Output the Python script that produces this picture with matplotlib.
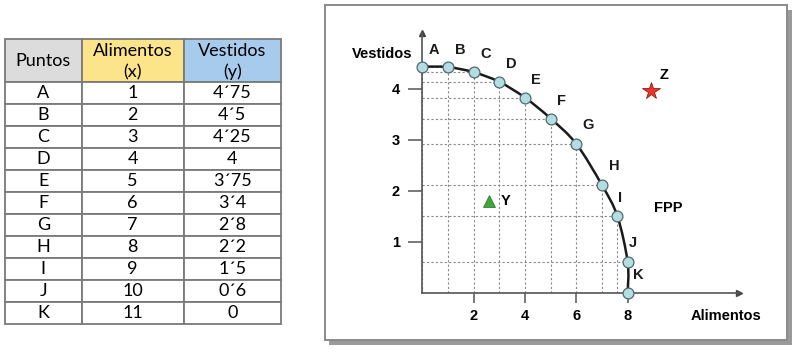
import matplotlib
matplotlib.use("Agg")
import matplotlib.pyplot as plt
from matplotlib.patches import Rectangle, PathPatch
from matplotlib.path import Path

# ---- table data ----
puntos = ["A", "B", "C", "D", "E", "F", "G", "H", "I", "J", "K"]
alimentos_tab = ["1", "2", "3", "4", "5", "6", "7", "8", "9", "10", "11"]
vestidos_tab = ["4´75", "4´5", "4´25", "4", "3´75", "3´4", "2´8", "2´2", "1´5", "0´6", "0"]

# ---- chart data (as drawn on the curve) ----
fpp_x = [0, 1, 2, 3, 4, 5, 6, 7, 7.6, 8.0, 8.0]
fpp_y = [4.44, 4.43, 4.33, 4.14, 3.83, 3.42, 2.92, 2.11, 1.5, 0.6, 0.0]
y_point = (2.61, 1.80)
z_point = (8.9, 3.97)

# label offsets in pixels (layout only)
lab_off = [(12, 17), (12, 17), (12, 18), (12, 18), (11, 18), (11, 18),
           (12, 19), (12, 19), (3, 18), (5, 19), (11, 18)]

W, H = 796, 353
fig = plt.figure(figsize=(W / 100, H / 100), dpi=100)
fig.patch.set_facecolor("white")

bg = fig.add_axes([0, 0, 1, 1])
bg.set_xlim(0, W)
bg.set_ylim(H, 0)
bg.axis("off")

# ---- table ----
tfont = ["Lato", "DejaVu Sans"]
tsize = 13
cols = [4.7, 81.7, 183.7, 281.0]
top, head_bot, row_h = 39.3, 81.7, 22.0
head_colors = ["#dcdcdc", "#fce48a", "#a6cbec"]
border = "#7a7a7a"
for i in range(3):
    bg.add_patch(Rectangle((cols[i], top), cols[i + 1] - cols[i], head_bot - top,
                           facecolor=head_colors[i], edgecolor=border, lw=1.3))
for r in range(len(puntos)):
    y0 = head_bot + r * row_h
    for i in range(3):
        bg.add_patch(Rectangle((cols[i], y0), cols[i + 1] - cols[i], row_h,
                               facecolor="white", edgecolor=border, lw=1.3))
centers = [(cols[i] + cols[i + 1]) / 2 for i in range(3)]
bg.text(centers[0], 61.5, "Puntos", ha="center", va="center", fontsize=tsize, family=tfont)
bg.text(centers[1], 50.5, "Alimentos", ha="center", va="center", fontsize=tsize, family=tfont)
bg.text(centers[1], 72.0, "(x)", ha="center", va="center", fontsize=tsize, family=tfont)
bg.text(centers[2], 50.5, "Vestidos", ha="center", va="center", fontsize=tsize, family=tfont)
bg.text(centers[2], 72.0, "(y)", ha="center", va="center", fontsize=tsize, family=tfont)
for r in range(len(puntos)):
    yc = head_bot + (r + 0.5) * row_h
    bg.text(centers[0], yc, puntos[r], ha="center", va="center", fontsize=tsize, family=tfont)
    bg.text(centers[1], yc, alimentos_tab[r], ha="center", va="center", fontsize=tsize, family=tfont)
    bg.text(centers[2], yc, vestidos_tab[r], ha="center", va="center", fontsize=tsize, family=tfont)

# ---- chart frame with shadow ----
bx0, by0, bx1, by1 = 324.7, 5.3, 787.3, 340.0
bg.add_patch(Rectangle((bx0 + 4.5, by0 + 4.5), bx1 - bx0, by1 - by0,
                       facecolor="#9a9a9a", edgecolor="none"))
bg.add_patch(Rectangle((bx0, by0), bx1 - bx0, by1 - by0,
                       facecolor="white", edgecolor="#8a8a8a", lw=1.4))

# ---- chart axes ----
ox, oy = 422.3, H - 292.6
ux, uy = 25.67, 50.9
xmax, ymax = 12.35, 5.11
ax = fig.add_axes([ox / W, oy / H, xmax * ux / W, ymax * uy / H])
ax.set_xlim(0, xmax)
ax.set_ylim(0, ymax)
ax.patch.set_alpha(0)
for s in ["top", "right"]:
    ax.spines[s].set_visible(False)
for s in ["left", "bottom"]:
    ax.spines[s].set_color("#555555")
    ax.spines[s].set_linewidth(1.2)
ax.plot([xmax], [0], marker=">", color="#444444", markersize=4, clip_on=False)
ax.plot([0], [ymax], marker="^", color="#444444", markersize=4, clip_on=False)

bold = dict(family=["Liberation Sans", "DejaVu Sans"], fontweight="bold")
ax.set_xticks([2, 4, 6, 8])
ax.set_yticks([1, 2, 3, 4])
ax.tick_params(axis="both", direction="out", length=7, width=1.1, color="#555555",
               labelsize=10.5, pad=5)
for lab in ax.get_xticklabels() + ax.get_yticklabels():
    lab.set_fontweight("bold")
    lab.set_family(["Liberation Sans", "DejaVu Sans"])
ax.tick_params(axis="y", length=10, pad=6)

# dotted guide lines
for x, y in zip(fpp_x, fpp_y):
    ax.plot([0, x], [y, y], ls=(0, (2, 2)), color="#888888", lw=0.8, zorder=1)
    ax.plot([x, x], [0, y], ls=(0, (2, 2)), color="#888888", lw=0.8, zorder=1)

# smooth frontier through the points (Bezier segments drawn by matplotlib)
pts = list(zip(fpp_x, fpp_y))
verts = [pts[0]]
codes = [Path.MOVETO]
n = len(pts)
for i in range(n - 1):
    p0 = pts[i - 1] if i > 0 else pts[i]
    p1, p2 = pts[i], pts[i + 1]
    p3 = pts[i + 2] if i + 2 < n else pts[i + 1]
    c1 = (p1[0] + (p2[0] - p0[0]) / 6, p1[1] + (p2[1] - p0[1]) / 6)
    c2 = (p2[0] - (p3[0] - p1[0]) / 6, p2[1] - (p3[1] - p1[1]) / 6)
    verts += [c1, c2, p2]
    codes += [Path.CURVE4] * 3
ax.add_patch(PathPatch(Path(verts, codes), facecolor="none", edgecolor="#1a1a1a",
                       lw=1.8, zorder=2, clip_on=False))
ax.plot(fpp_x, fpp_y, ls="none", marker="o", markersize=7.8, markerfacecolor="#b3dde0",
        markeredgecolor="#4d6a70", markeredgewidth=0.9, zorder=3, clip_on=False)

for name, x, y, off in zip(puntos, fpp_x, fpp_y, lab_off):
    ax.annotate(name, (x, y), xytext=off, textcoords="offset pixels",
                ha="center", va="center", fontsize=10.5, color="#1a1a1a", **bold)

ax.plot([y_point[0]], [y_point[1]], marker="^", markersize=8, color="#3aaa35",
        markeredgecolor="#2a6a28", markeredgewidth=0.5, ls="none")
ax.annotate("Y", y_point, xytext=(16, 0), textcoords="offset pixels",
            ha="center", va="center", fontsize=10.5, **bold)
ax.plot([z_point[0]], [z_point[1]], marker="*", markersize=13, color="#e8362a",
        markeredgecolor="#9a1a10", markeredgewidth=0.6, ls="none", clip_on=False)
ax.annotate("Z", z_point, xytext=(13, 16), textcoords="offset pixels",
            ha="center", va="center", fontsize=10.5, **bold)
ax.text(9.58, 1.67, "FPP", ha="center", va="center", fontsize=10.5, **bold)

bg.text(381.7, 54, "Vestidos", ha="center", va="center", fontsize=10.5, **bold)
bg.text(725.7, 315.7, "Alimentos", ha="center", va="center", fontsize=10.5, **bold)

fig.savefig("out.png", dpi=100)
